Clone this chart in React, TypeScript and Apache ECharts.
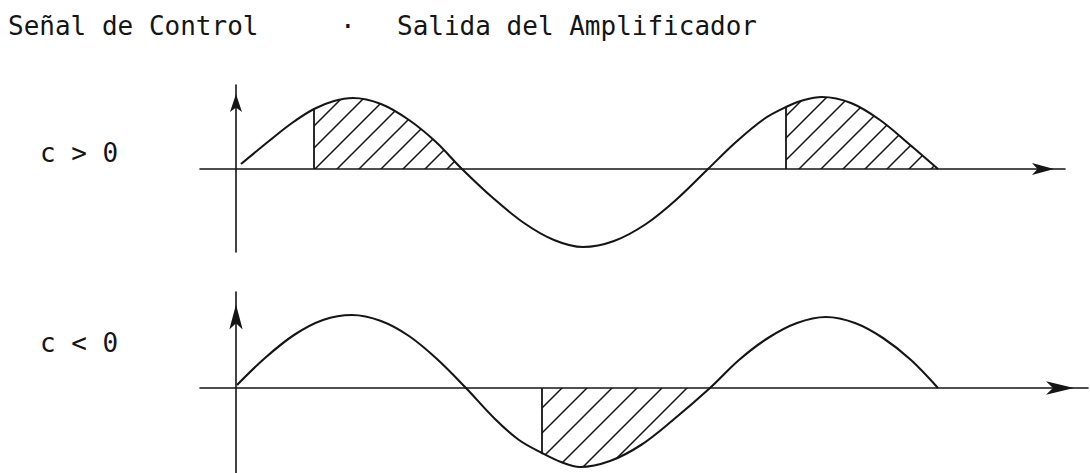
import React, { useEffect, useRef } from "react";
import * as echarts from "echarts";

// Señal: x = time offset from the vertical axis, y = amplitude (positive up)
const topCurve: [number, number][] = [
  [5, 5], [33, 28], [56, 46], [78, 60], [98, 68], [117, 71], [145, 65], [173, 49], [200, 27], [226, 0],
  [257, -29], [288, -54], [318, -71], [347, -78], [378, -72], [410, -55], [441, -30], [472, 0],
  [500, 27], [528, 50], [550, 62], [568, 69], [586, 72], [615, 66], [644, 49], [673, 25], [702, 0],
];
const bottomCurve: [number, number][] = [
  [1, 3], [29, 30], [58, 53], [87, 68], [116, 73], [145, 67], [173, 52], [201, 29], [230, 0],
  [259, -31], [283, -52], [306, -65], [325, -74], [344, -79], [374, -73], [405, -57], [437, -32], [474, 0],
  [503, 28], [532, 50], [561, 65], [590, 71], [619, 65], [647, 50], [675, 28], [702, 0],
];
// hatched (conduction) intervals: [start, end] on the time axis
const topHatch: [number, number][] = [[78, 226], [550, 702]];
const bottomHatch: [number, number][] = [[306, 474]];

const titleLeft = "Señal de Control";
const titleRight = "Salida del Amplificador";
const labelTop = "c > 0";
const labelBottom = "c < 0";

const INK = "#151515";
const FONT = "'DejaVu Sans Mono', 'Liberation Mono', monospace";

function makeHatch(size: number) {
  const c = document.createElement("canvas");
  c.width = size;
  c.height = size;
  const g = c.getContext("2d")!;
  g.strokeStyle = INK;
  g.lineWidth = 1.5;
  g.beginPath();
  g.moveTo(-2, size + 2);
  g.lineTo(size + 2, -2);
  g.moveTo(-2, 2);
  g.lineTo(2, -2);
  g.moveTo(size - 2, size + 2);
  g.lineTo(size + 2, size - 2);
  g.stroke();
  return { image: c, repeat: "repeat", imageWidth: size, imageHeight: size } as any;
}

export default function App() {
  const ref = useRef<HTMLDivElement>(null);
  useEffect(() => {
    if (!ref.current) return;
    const chart = echarts.init(ref.current, undefined, { renderer: "svg" });
    const hatchTop = makeHatch(22);
    const hatchBottom = makeHatch(25);
    const SMOOTH = 0.35;

    const axisCommon = {
      type: "value" as const,
      axisTick: { show: false },
      axisLabel: { show: false },
      splitLine: { show: false },
    };
    const curveSeries = (data: [number, number][], gi: number) => ({
      type: "line",
      xAxisIndex: gi,
      yAxisIndex: gi,
      data,
      smooth: SMOOTH,
      showSymbol: false,
      silent: true,
      lineStyle: { color: INK, width: 2.1 },
      z: 5,
    });
    const hatchSeries = (data: [number, number][], range: [number, number], gi: number, pat: any) => [
      {
        type: "line",
        xAxisIndex: gi,
        yAxisIndex: gi,
        data: data.filter((p) => p[0] >= range[0] && p[0] <= range[1]),
        smooth: SMOOTH,
        showSymbol: false,
        silent: true,
        lineStyle: { width: 0, opacity: 0 },
        areaStyle: { color: pat, opacity: 1 },
        z: 3,
      },
      {
        type: "line",
        xAxisIndex: gi,
        yAxisIndex: gi,
        data: [
          [range[0], 0],
          [range[0], (data.find((p) => p[0] === range[0]) || [0, 0])[1]],
        ],
        showSymbol: false,
        silent: true,
        lineStyle: { color: INK, width: 1.8 },
        z: 4,
      },
    ];

    const textStyle = (t: string, x: number, y: number) => ({
      type: "text",
      x,
      y,
      style: { text: t, fill: INK, font: `26px ${FONT}`, verticalAlign: "middle", align: "left" },
    });

    const axisLine = (w: number, h: number) => ({
      show: true,
      onZero: true,
      lineStyle: { color: INK, width: 1.6 },
      symbol: ["none", "arrow"],
      symbolSize: [w, h],
      symbolOffset: [0, -h / 2],
    });

    chart.setOption({
      animation: false,
      backgroundColor: "#ffffff",
      grid: [
        { left: 200, top: 85, width: 865, height: 167 },
        { left: 200, top: 292, width: 888, height: 181 },
      ],
      xAxis: [
        { ...axisCommon, gridIndex: 0, min: -36, max: 829, axisLine: axisLine(9, 22) },
        { ...axisCommon, gridIndex: 1, min: -36, max: 852, axisLine: axisLine(10, 28) },
      ],
      yAxis: [
        { ...axisCommon, gridIndex: 0, min: -83, max: 84, axisLine: axisLine(9, 18) },
        { ...axisCommon, gridIndex: 1, min: -85, max: 96, axisLine: axisLine(10, 25) },
      ],
      series: [
        ...topHatch.flatMap((r) => hatchSeries(topCurve, r, 0, hatchTop)),
        ...bottomHatch.flatMap((r) => hatchSeries(bottomCurve, r, 1, hatchBottom)),
        curveSeries(topCurve, 0),
        curveSeries(bottomCurve, 1),
      ],
      graphic: [
        textStyle(titleLeft, 8, 26),
        textStyle("·", 340, 26),
        textStyle(titleRight, 397, 26),
        textStyle(labelTop, 40, 153),
        textStyle(labelBottom, 40, 343),
      ],
    });
    return () => chart.dispose();
  }, []);
  return (
    <div
      ref={ref}
      style={{ position: "fixed", left: 0, top: 0, width: 1090, height: 473 }}
    />
  );
}
